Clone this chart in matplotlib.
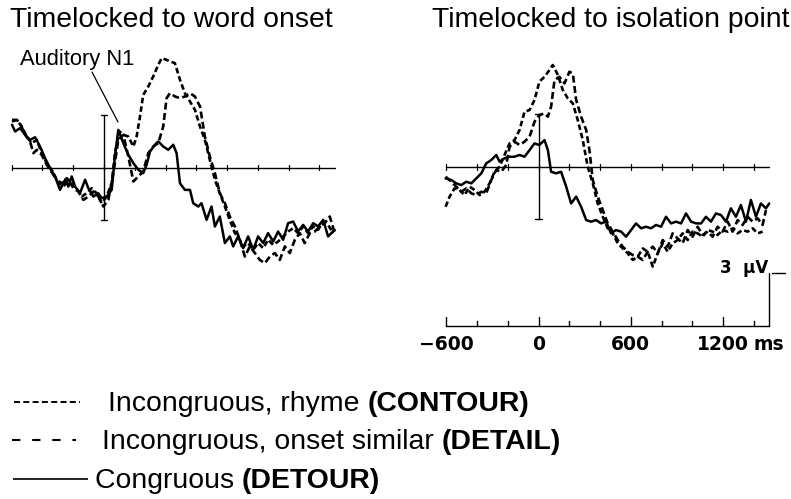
import matplotlib
matplotlib.use('Agg')
import matplotlib.pyplot as plt

# ERP waveforms in microvolts (negative up), time in ms

# timelocked to word onset
onset_t_congruous = [-598, -578, -546, -513, -481, -448, -416, -383, -351, -318,
                     -286, -253, -232, -210, -188, -156, -123, -102, -69, -37,
                     -15, 17, 50, 71, 93, 126, 158, 191, 223, 255,
                     277, 299, 331, 353, 385, 418, 450, 472, 494, 526,
                     559, 580, 613, 634, 667, 699, 721, 753, 786, 818,
                     840, 872, 905, 937, 970, 1002, 1035, 1067, 1100, 1132,
                     1165, 1197, 1230, 1262, 1295, 1327, 1360, 1392, 1425, 1457, 1500]
onset_v_congruous = [-2.44, -2.06, -2.25, -1.87, -1.58, -1.73, -1.2, -0.53, 0.04, 0.51,
                     1.28, 0.70, 1.09, 0.51, 1.09, 1.47, 0.70, 1.18, 1.66, 1.47,
                     1.75, 1.66, 1.28, -0.63, -2.15, -1.39, -0.72, -0.25, 0.13, 0.32,
                     -0.15, -0.91, -1.30, -1.49, -1.20, -1.01, -1.30, -0.82, 0.90, 1.28,
                     1.28, 2.04, 2.23, 2.04, 2.99, 2.23, 3.37, 2.80, 4.32, 3.94,
                     4.51, 3.94, 4.61, 3.94, 4.70, 3.94, 4.32, 3.75, 4.23, 3.66,
                     4.13, 3.18, 3.09, 3.66, 3.28, 3.66, 3.18, 3.37, 2.99, 3.94, 3.56]

onset_t_rhyme = [-598, -567, -535, -502, -470, -437, -405, -372, -340, -307,
                 -275, -242, -210, -178, -145, -113, -80, -48, -15, 17,
                 50, 71, 100, 126, 158, 191, 212, 234, 255, 288,
                 320, 353, 375, 407, 461, 494, 526, 559, 591, 624,
                 656, 688, 721, 753, 786, 818, 851, 872, 905, 937,
                 970, 1002, 1035, 1067, 1100, 1132, 1165, 1197, 1230, 1262,
                 1295, 1327, 1360, 1392, 1425, 1457, 1490]
onset_v_rhyme = [-2.63, -2.72, -2.34, -1.77, -1.39, -1.58, -0.82, -0.25, 0.13, 0.70,
                 0.90, 0.61, 0.90, 1.18, 1.66, 1.47, 1.18, 1.47, 2.04, 1.66,
                 0.90, -0.82, -2.06, -1.87, -1.77, -1.20, -1.77, -2.91, -4.15, -4.63,
                 -5.20, -5.87, -6.25, -6.15, -5.96, -5.01, -4.25, -3.77, -3.30, -2.34,
                 -1.58, -0.44, 0.70, 1.47, 2.23, 2.99, 3.75, 3.94, 4.51, 4.32,
                 4.70, 4.32, 4.61, 4.13, 4.42, 4.23, 3.94, 3.66, 3.47, 3.75,
                 3.37, 3.75, 3.37, 3.56, 3.09, 3.28, 3.75]

onset_t_detail = [-598, -567, -546, -513, -481, -459, -437, -405, -372, -329,
                  -297, -264, -232, -199, -167, -134, -102, -69, -37, -4,
                  28, 61, 93, 126, 158, 191, 223, 255, 288, 320,
                  353, 385, 407, 429, 461, 494, 526, 559, 591, 624,
                  656, 688, 721, 753, 786, 818, 851, 883, 916, 948,
                  981, 1013, 1046, 1078, 1111, 1143, 1176, 1208, 1241, 1273,
                  1305, 1338, 1370, 1403, 1435, 1468, 1500]
onset_v_detail = [-2.72, -2.72, -2.53, -1.87, -1.49, -0.82, -1.01, -0.72, -0.15, 0.42,
                  0.90, 1.09, 0.70, 1.18, 1.37, 1.85, 1.66, 1.37, 1.66, 2.23,
                  1.85, 0.32, -1.58, -1.87, -0.63, 0.80, 0.51, 0.23, -0.82, -1.20,
                  -1.39, -2.34, -3.96, -4.25, -4.06, -3.96, -4.06, -4.25, -4.06, -3.49,
                  -1.77, -0.63, 0.32, 1.47, 2.04, 2.80, 3.37, 4.13, 5.09, 4.51,
                  4.89, 5.28, 5.47, 5.09, 4.89, 5.28, 4.51, 4.89, 4.13, 3.75,
                  4.32, 3.75, 3.66, 3.37, 3.18, 2.80, 3.75]

# timelocked to isolation point
iso_t_congruous = [-604, -567, -535, -502, -470, -437, -405, -372, -340, -307,
                   -275, -253, -221, -188, -156, -123, -91, -58, -26, 6,
                   39, 61, 82, 115, 147, 180, 212, 245, 277, 310,
                   342, 375, 407, 439, 472, 504, 537, 569, 602, 634,
                   667, 699, 732, 764, 797, 829, 862, 894, 927, 959,
                   992, 1024, 1057, 1089, 1121, 1154, 1186, 1219, 1251, 1284,
                   1316, 1349, 1381, 1414, 1446, 1479, 1500]
iso_v_congruous = [0.67, 0.76, 0.95, 1.05, 0.86, 0.95, 0.67, 0.38, -0.19, -0.38,
                   -0.67, -0.29, -0.48, -0.57, -0.57, -0.67, -0.57, -0.95, -1.33, -1.24,
                   -1.52, -0.95, 0.29, 0.38, 0.29, 1.14, 2.10, 1.71, 2.29, 3.05,
                   3.14, 3.05, 3.24, 3.14, 3.81, 3.62, 3.71, 4.00, 3.62, 3.24,
                   3.52, 3.43, 3.52, 3.33, 3.43, 2.86, 3.24, 3.14, 3.24, 2.67,
                   3.14, 3.24, 3.24, 2.86, 3.14, 2.67, 2.76, 3.14, 2.38, 2.86,
                   2.19, 3.14, 1.90, 2.86, 2.10, 2.38, 2.10]

iso_t_rhyme = [-604, -578, -546, -513, -481, -448, -416, -383, -351, -318,
               -286, -253, -221, -188, -156, -123, -91, -58, -26, 6,
               39, 71, 93, 126, 158, 191, 223, 255, 288, 320,
               353, 385, 418, 450, 483, 515, 548, 580, 613, 645,
               678, 710, 743, 775, 808, 840, 872, 905, 937, 970,
               1002, 1035, 1067, 1100, 1132, 1165, 1197, 1230, 1262, 1295,
               1327, 1360, 1392, 1425, 1457]
iso_v_rhyme = [2.29, 1.71, 1.24, 1.33, 1.62, 1.14, 1.33, 1.62, 1.43, 0.95,
               0.29, 0.0, -0.67, -1.33, -1.52, -2.10, -3.14, -3.24, -3.81, -4.86,
               -5.14, -5.52, -5.81, -5.24, -4.38, -3.90, -3.62, -2.67, -1.52, 0.0,
               0.95, 2.10, 2.86, 3.52, 3.81, 4.38, 4.67, 4.95, 5.33, 5.14,
               4.67, 4.86, 5.71, 4.95, 4.38, 4.86, 4.38, 4.19, 3.81, 4.19,
               3.71, 3.81, 4.00, 3.62, 3.71, 3.90, 3.62, 3.71, 3.52, 3.81,
               3.62, 3.71, 3.52, 3.81, 3.71]

iso_t_detail = [-604, -567, -535, -502, -470, -437, -405, -372, -340, -307,
                -275, -242, -210, -188, -156, -123, -91, -58, -26, 6,
                39, 61, 82, 104, 136, 169, 201, 223, 245, 277,
                310, 331, 353, 385, 418, 450, 483, 515, 548, 580,
                613, 645, 678, 710, 743, 775, 808, 840, 872, 905,
                937, 970, 1002, 1035, 1067, 1100, 1132, 1165, 1197, 1230,
                1262, 1295, 1327, 1360, 1392, 1425, 1457, 1479]
iso_v_detail = [0.57, 0.86, 1.14, 1.43, 1.24, 1.52, 1.62, 1.43, 1.52, 0.76,
                0.19, 0.29, -0.10, -1.14, -1.43, -1.24, -1.43, -1.71, -2.57, -2.95,
                -3.05, -2.86, -3.43, -4.95, -5.14, -4.76, -5.43, -5.33, -3.81, -2.86,
                -2.10, -0.95, 0.76, 1.71, 2.48, 3.24, 3.71, 4.19, 4.57, 4.86,
                5.05, 5.14, 5.33, 4.86, 4.57, 4.95, 4.19, 4.57, 3.81, 4.10,
                4.38, 3.62, 4.00, 3.43, 3.90, 3.71, 4.00, 3.43, 3.71, 3.14,
                3.71, 3.05, 3.33, 2.86, 3.14, 2.95, 3.33, 2.48]

axis_ticks = list(range(-600, 1401, 200))
tick_labels = {-600: '\u2212600', 0: '0', 600: '600', 1200: '1200'}
scale_uv = 3

legend_rows = [('Incongruous, rhyme ', '(CONTOUR)'),
               ('Incongruous, onset similar ', '(DETAIL)'),
               ('Congruous ', '(DETOUR)')]

W, H = 791, 499
PX_PER_MS = 0.1538
PX_PER_UV = 17.5

plt.rcParams['lines.scale_dashes'] = False
plt.rcParams['lines.solid_capstyle'] = 'round'

styles = {
    'congruous': dict(color='black', lw=1.8, ls='-'),
    'rhyme': dict(color='black', lw=1.9, ls=(0, (4, 2.2))),
    'detail': dict(color='black', lw=1.9, ls=(0, (5, 2.5))),
}


def panel_axes(fig, rect, zero_x, base_y):
    """Axes from a pixel rect (left, top, width, height) with ms / uV mapped to pixels."""
    left, top, width, height = rect
    ax = fig.add_axes([left / W, 1 - (top + height) / H, width / W, height / H])
    ax.set_xlim((left - zero_x) / PX_PER_MS, (left + width - zero_x) / PX_PER_MS)
    # negative up
    ax.set_ylim((top + height - base_y) / PX_PER_UV, (top - base_y) / PX_PER_UV)
    ax.axis('off')
    return ax


def draw_frame(ax):
    ax.plot([-600, 1500], [0, 0], color='black', lw=1.0)
    for t in axis_ticks:
        ax.plot([t, t], [-0.17, 0.17], color='black', lw=0.9)
    ax.plot([0, 0], [-scale_uv, scale_uv], color='black', lw=1.0)
    for y in (-scale_uv, scale_uv):
        ax.plot([-20, 20], [y, y], color='black', lw=1.0)


def draw_waves(ax, data):
    for key in ('congruous', 'detail', 'rhyme'):
        t, v = data[key]
        ax.plot(t, v, **styles[key])


fig = plt.figure(figsize=(W / 100, H / 100), dpi=100)
fig.patch.set_facecolor('white')

ax_l = panel_axes(fig, (0, 35, 380, 260), zero_x=104, base_y=167.5)
draw_frame(ax_l)
draw_waves(ax_l, {'congruous': (onset_t_congruous, onset_v_congruous),
                  'rhyme': (onset_t_rhyme, onset_v_rhyme),
                  'detail': (onset_t_detail, onset_v_detail)})

ax_r = panel_axes(fig, (420, 35, 371, 340), zero_x=538.5, base_y=166.7)
draw_frame(ax_r)
draw_waves(ax_r, {'congruous': (iso_t_congruous, iso_v_congruous),
                  'rhyme': (iso_t_rhyme, iso_v_rhyme),
                  'detail': (iso_t_detail, iso_v_detail)})

# time axis with calibration bar under the right panel
y_axis = 9.1
ax_r.plot([-600, 1500], [y_axis, y_axis], color='black', lw=1.0)
for t in axis_ticks:
    h = 0.5 if t in tick_labels else 0.3
    ax_r.plot([t, t], [y_axis, y_axis - h], color='black', lw=1.0)
for t, lab in tick_labels.items():
    ax_r.text(t, y_axis + 0.5, lab, ha='center', va='top', fontsize=13.5,
              fontweight='bold', family='DejaVu Sans')
ax_r.text(1400, y_axis + 0.5, 'ms', ha='left', va='top', fontsize=13.5,
          fontweight='bold', family='DejaVu Sans')
ax_r.plot([1500, 1500], [y_axis, y_axis - scale_uv], color='black', lw=1.0)
ax_r.plot([1520, 1600], [y_axis - scale_uv, y_axis - scale_uv], color='black',
          lw=1.0, clip_on=False)
ax_r.text(1495, y_axis - scale_uv, '3  \u03bcV', ha='right', va='baseline',
          fontsize=12, fontweight='bold', family='DejaVu Sans')

# titles, annotation and legend in pixel coordinates
ov = fig.add_axes([0, 0, 1, 1])
ov.set_xlim(0, W)
ov.set_ylim(H, 0)
ov.axis('off')
ov.patch.set_alpha(0)

ov.text(10, 27, 'Timelocked to word onset', fontsize=20.4, family='Liberation Sans',
        va='baseline')
ov.text(432, 27, 'Timelocked to isolation point', fontsize=20.4,
        family='Liberation Sans', va='baseline')
ov.text(20, 65, 'Auditory N1', fontsize=15.8, family='Liberation Sans', va='baseline')
ov.plot([92, 118], [72, 122], color='black', lw=0.9)

sample_styles = [dict(ls=(0, (4.3, 2.4)), lw=1.4, x=(14, 80)),
                 dict(ls=(0, (6.0, 8.5)), lw=1.5, x=(12, 76)),
                 dict(ls='-', lw=1.2, x=(13, 88))]
text_x = [108, 102, 95]
row_baseline = [411, 449, 488]

fig.canvas.draw()
renderer = fig.canvas.get_renderer()
for (normal, bold), st, tx, yb in zip(legend_rows, sample_styles, text_x, row_baseline):
    ov.plot(st['x'], [yb - 9, yb - 9], color='black', lw=st['lw'], ls=st['ls'],
            solid_capstyle='butt', dash_capstyle='butt')
    t1 = ov.text(tx, yb, normal, fontsize=20.4, family='Liberation Sans',
                 va='baseline')
    x_end = t1.get_window_extent(renderer).x1  # display px equal data px here
    ov.text(x_end, yb, bold, fontsize=20.4, family='Liberation Sans',
            fontweight='bold', va='baseline')

fig.savefig('out.png', dpi=100)
